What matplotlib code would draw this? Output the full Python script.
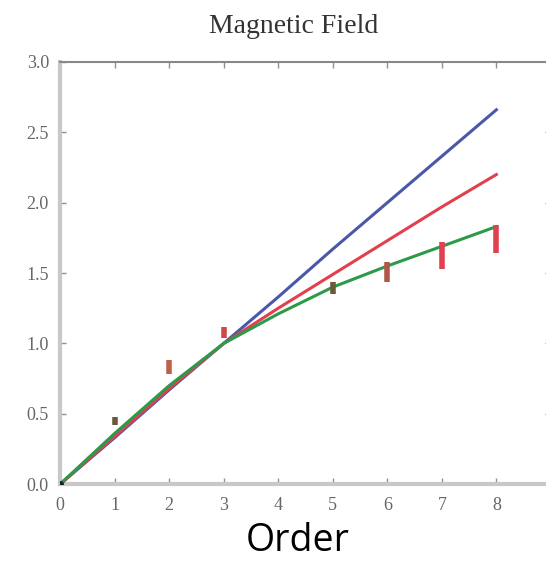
import matplotlib.pyplot as plt
import numpy as np

# données
ordre = [0, 1, 2, 3, 4, 5, 6, 7, 8]
champ_bleu = [0.0, 0.33, 0.67, 1.0, 1.33, 1.67, 2.0, 2.33, 2.66]
champ_rouge = [0.0, 0.34, 0.68, 1.0, 1.25, 1.49, 1.73, 1.97, 2.20]
champ_vert = [0.0, 0.36, 0.70, 1.0, 1.21, 1.40, 1.55, 1.69, 1.83]

# barres d'erreur (mesures)
mes_x = [1, 2, 3, 5, 6, 7, 8]
mes_bas = [0.42, 0.78, 1.04, 1.35, 1.44, 1.53, 1.64]
mes_haut = [0.48, 0.88, 1.12, 1.44, 1.58, 1.72, 1.84]
mes_couleur = ['#6a5a3a', '#c0604a', '#d04848', '#6a5a3a', '#b05848', '#e04050', '#e04050']

fig = plt.figure(figsize=(5.46, 5.63), dpi=100)
ax = fig.add_axes([0.110, 0.140, 0.899, 0.750])

ax.plot(ordre, champ_bleu, color='#4a58a8', lw=2.2, zorder=3)
ax.plot(ordre, champ_vert, color='#2c9a48', lw=2.2, zorder=4)
ax.plot(ordre, champ_rouge, color='#e2404e', lw=2.2, zorder=3)
ax.vlines(mes_x, mes_bas, mes_haut, colors=mes_couleur, lw=4, zorder=5)
ax.plot([0], [0], 'o', color='#202020', ms=4, zorder=6)

ax.set_xlim(0, 9)
ax.set_ylim(0, 3.0)
ax.set_xticks(range(0, 10))
ax.set_yticks([0.0, 0.5, 1.0, 1.5, 2.0, 2.5, 3.0])
ax.set_yticklabels(['0.0', '0.5', '1.0', '1.5', '2.0', '2.5', '3.0'])
ax.tick_params(direction='in', top=True, right=True, length=4, width=1,
               colors='#909090', labelsize=13)
ax.tick_params(axis='x', pad=9)
ax.tick_params(axis='y', pad=8)
for lab in ax.get_xticklabels() + ax.get_yticklabels():
    lab.set_family('Liberation Serif')
    lab.set_color('#666666')

ax.spines['left'].set_color('#c8c8c8')
ax.spines['left'].set_linewidth(3)
ax.spines['bottom'].set_color('#c8c8c8')
ax.spines['bottom'].set_linewidth(3)
ax.spines['top'].set_color('#888888')
ax.spines['top'].set_linewidth(1.5)
ax.spines['right'].set_color('#c8c8c8')

fig.text(0.538, 0.953, 'Magnetic Field', family='Liberation Serif', fontsize=20,
         color='#333333', ha='center', va='center')
fig.text(0.546, 0.022, 'Order', family='Open Sans', fontsize=27,
         color='black', ha='center', va='baseline')

fig.savefig('out.png', dpi=100)
